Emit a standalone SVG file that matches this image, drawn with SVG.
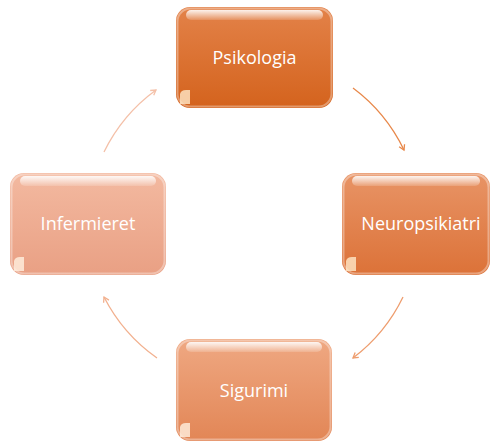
<svg xmlns="http://www.w3.org/2000/svg" width="491" height="443" viewBox="0 0 491 443">
<style>
.lbl{font-family:"Open Sans","Liberation Sans",sans-serif;font-size:18px;fill:#ffffff;text-anchor:middle;dominant-baseline:central}
.hl{fill:url(#shine)}
.edge{fill:none;stroke:#ffffff;stroke-opacity:0.35;stroke-width:2}
.conn{fill:none;stroke-width:1.3}
</style>
<defs>
<linearGradient id="g1" x1="0" y1="0" x2="0" y2="1"><stop offset="0" stop-color="#e38249"/><stop offset="1" stop-color="#d4631d"/></linearGradient>
<linearGradient id="g2" x1="0" y1="0" x2="0" y2="1"><stop offset="0" stop-color="#e89466"/><stop offset="1" stop-color="#dc7238"/></linearGradient>
<linearGradient id="g3" x1="0" y1="0" x2="0" y2="1"><stop offset="0" stop-color="#efa882"/><stop offset="1" stop-color="#e28656"/></linearGradient>
<linearGradient id="g4" x1="0" y1="0" x2="0" y2="1"><stop offset="0" stop-color="#f3b9a0"/><stop offset="1" stop-color="#e9a084"/></linearGradient>
<linearGradient id="shine" x1="0" y1="0" x2="0" y2="1"><stop offset="0" stop-color="#ffffff" stop-opacity="0.9"/><stop offset="1" stop-color="#ffffff" stop-opacity="0.15"/></linearGradient>
<marker id="a1" markerWidth="8" markerHeight="8" refX="6" refY="4" orient="auto" markerUnits="userSpaceOnUse"><path d="M1,1 L6,4 L1,7" fill="none" stroke="#e8884a" stroke-width="1.3"/></marker>
<marker id="a2" markerWidth="8" markerHeight="8" refX="6" refY="4" orient="auto" markerUnits="userSpaceOnUse"><path d="M1,1 L6,4 L1,7" fill="none" stroke="#ee9d6e" stroke-width="1.3"/></marker>
<marker id="a3" markerWidth="8" markerHeight="8" refX="6" refY="4" orient="auto" markerUnits="userSpaceOnUse"><path d="M1,1 L6,4 L1,7" fill="none" stroke="#f2b08e" stroke-width="1.3"/></marker>
<marker id="a4" markerWidth="8" markerHeight="8" refX="6" refY="4" orient="auto" markerUnits="userSpaceOnUse"><path d="M1,1 L6,4 L1,7" fill="none" stroke="#f4c0a8" stroke-width="1.3"/></marker>
</defs>
<g id="connectors">
<path class="conn" stroke="#e8884a" marker-end="url(#a1)" d="M353,88 A168,168 0 0 1 404,150"/>
<path class="conn" stroke="#ee9d6e" marker-end="url(#a2)" d="M403,297 A168,168 0 0 1 353,358"/>
<path class="conn" stroke="#f2b08e" marker-end="url(#a3)" d="M157,358 A168,168 0 0 1 104,297"/>
<path class="conn" stroke="#f4c0a8" marker-end="url(#a4)" d="M104,152 A168,168 0 0 1 156,90"/>
</g>
<g id="psikologia">
<rect x="176" y="7" width="157" height="101" rx="14" fill="url(#g1)"/>
<rect x="186" y="10" width="137" height="10" rx="5" class="hl"/>
<rect x="177.5" y="8.5" width="154" height="98" rx="13" class="edge"/>
<path d="M180,104 L180,94 Q181,90 186,90 L190,90 L190,104 Z" fill="#ffe8c8" opacity="0.8"/>
<text class="lbl" x="254.5" y="57">Psikologia</text>
</g>
<g id="neuropsikiatri">
<rect x="342" y="173" width="148" height="102" rx="14" fill="url(#g2)"/>
<rect x="352" y="176" width="128" height="10" rx="5" class="hl"/>
<rect x="343.5" y="174.5" width="145" height="99" rx="13" class="edge"/>
<path d="M346,271 L346,261 Q347,257 352,257 L356,257 L356,271 Z" fill="#ffe8c8" opacity="0.8"/>
<text class="lbl" x="421" y="223">Neuropsikiatri</text>
</g>
<g id="infermieret">
<rect x="10" y="173" width="156" height="102" rx="14" fill="url(#g4)"/>
<rect x="20" y="176" width="136" height="10" rx="5" class="hl"/>
<rect x="11.5" y="174.5" width="153" height="99" rx="13" class="edge"/>
<path d="M14,271 L14,261 Q15,257 20,257 L24,257 L24,271 Z" fill="#fff0e0" opacity="0.8"/>
<text class="lbl" x="88" y="223">Infermieret</text>
</g>
<g id="sigurimi">
<rect x="176" y="339" width="156" height="102" rx="14" fill="url(#g3)"/>
<rect x="186" y="342" width="136" height="10" rx="5" class="hl"/>
<rect x="177.5" y="340.5" width="153" height="99" rx="13" class="edge"/>
<path d="M180,437 L180,427 Q181,423 186,423 L190,423 L190,437 Z" fill="#fff0e0" opacity="0.8"/>
<text class="lbl" x="254" y="390">Sigurimi</text>
</g>
</svg>
